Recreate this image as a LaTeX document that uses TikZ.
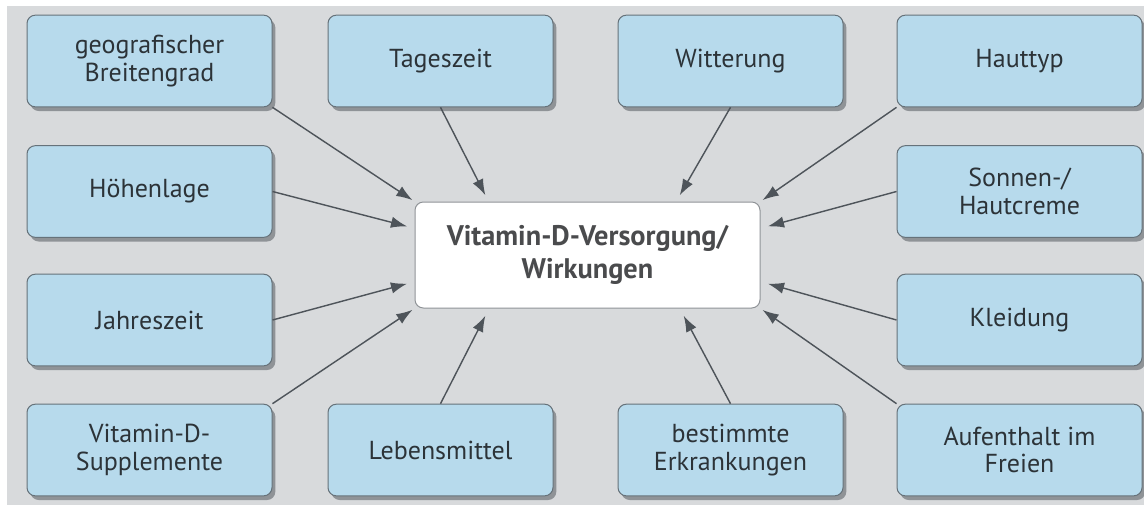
\documentclass[tikz,border=0pt]{standalone}
\usepackage{fontspec}
\setmainfont{PT Sans}
\usetikzlibrary{arrows.meta,calc,shadows}
\definecolor{panel}{HTML}{D8DADC}
\definecolor{ink}{HTML}{2C3338}
\definecolor{frame}{HTML}{66727A}
\definecolor{factorfill}{HTML}{B7DAEC}
\definecolor{shadowgray}{HTML}{8F9397}
\definecolor{arrowgray}{HTML}{4E545A}
\definecolor{centertext}{HTML}{4A4B4D}
\tikzset{
  >={Latex[length=3.4mm,width=2.4mm]},
  factor/.style={draw=frame, fill=factorfill, line width=.6pt,
    rounded corners=5pt, align=center, text=ink,
    minimum width=147pt, minimum height=55pt, inner sep=2pt,
    font=\fontsize{15.6}{16.4}\selectfont,
    general shadow={fill=shadowgray, shadow xshift=2pt, shadow yshift=-2.5pt}},
  narrowfactor/.style={factor, minimum width=135pt},
  target/.style={draw=shadowgray, fill=white, line width=.6pt,
    rounded corners=5pt, align=center, text=centertext,
    minimum width=207pt, minimum height=63.6pt,
    font=\bfseries\fontsize{17}{19.4}\selectfont},
  influence/.style={draw=arrowgray, line width=.85pt, ->, shorten >=1.5pt}
}

\begin{document}
\begin{tikzpicture}[x=0.6pt,y=-0.6pt]
  \useasboundingbox (0,0) rectangle (1144,515);
  \path[fill=panel] (7,6) rectangle (1144,505);

  % ------------------------------------------------------------------
  % centre
  \node[target] (vitd) at (587.5,255) {Vitamin-D-Versorgung/\\Wirkungen};

  % ------------------------------------------------------------------
  % left column
  \node[factor] (breite) at (149.5,61) {geografischer\\Breitengrad};
  \node[factor] (hoehe) at (149.5,191.5) {Höhenlage};
  \node[factor] (jahr) at (149.5,320) {Jahreszeit};
  \node[factor] (suppl) at (149.5,450) {Vitamin-D-\\Supplemente};

  % middle columns
  \node[narrowfactor] (tag) at (440.5,61) {Tageszeit};
  \node[narrowfactor] (essen) at (440.5,450) {Lebensmittel};
  \node[narrowfactor] (wetter) at (730.5,61) {Witterung};
  \node[narrowfactor] (krank) at (730.5,450) {bestimmte\\Erkrankungen};

  % right column
  \node[factor] (haut) at (1019.5,61) {Hauttyp};
  \node[factor] (creme) at (1019.5,191.5) {Sonnen-/\\Hautcreme};
  \node[factor] (kleid) at (1019.5,320) {Kleidung};
  \node[factor] (frei) at (1019.5,450) {Aufenthalt im\\Freien};

  % ------------------------------------------------------------------
  % arrows into the centre
  \draw[influence] (breite.south east) -- (vitd.north west);
  \draw[influence] (tag.south) -- ($(vitd.north west)+(72,-4)$);
  \draw[influence] (wetter.south) -- ($(vitd.north east)+(-82,-4)$);
  \draw[influence] (haut.south west) -- (vitd.north east);
  \draw[influence] (hoehe.east) -- ($(vitd.west)+(-5,-28)$);
  \draw[influence] (jahr.east) -- ($(vitd.west)+(-5,28)$);
  \draw[influence] (creme.west) -- ($(vitd.east)+(5,-28)$);
  \draw[influence] (kleid.west) -- ($(vitd.east)+(5,28)$);
  \draw[influence] (suppl.north east) -- (vitd.south west);
  \draw[influence] (essen.north) -- ($(vitd.south west)+(72,5)$);
  \draw[influence] (krank.north) -- ($(vitd.south east)+(-78,5)$);
  \draw[influence] (frei.north west) -- (vitd.south east);
\end{tikzpicture}
\end{document}
